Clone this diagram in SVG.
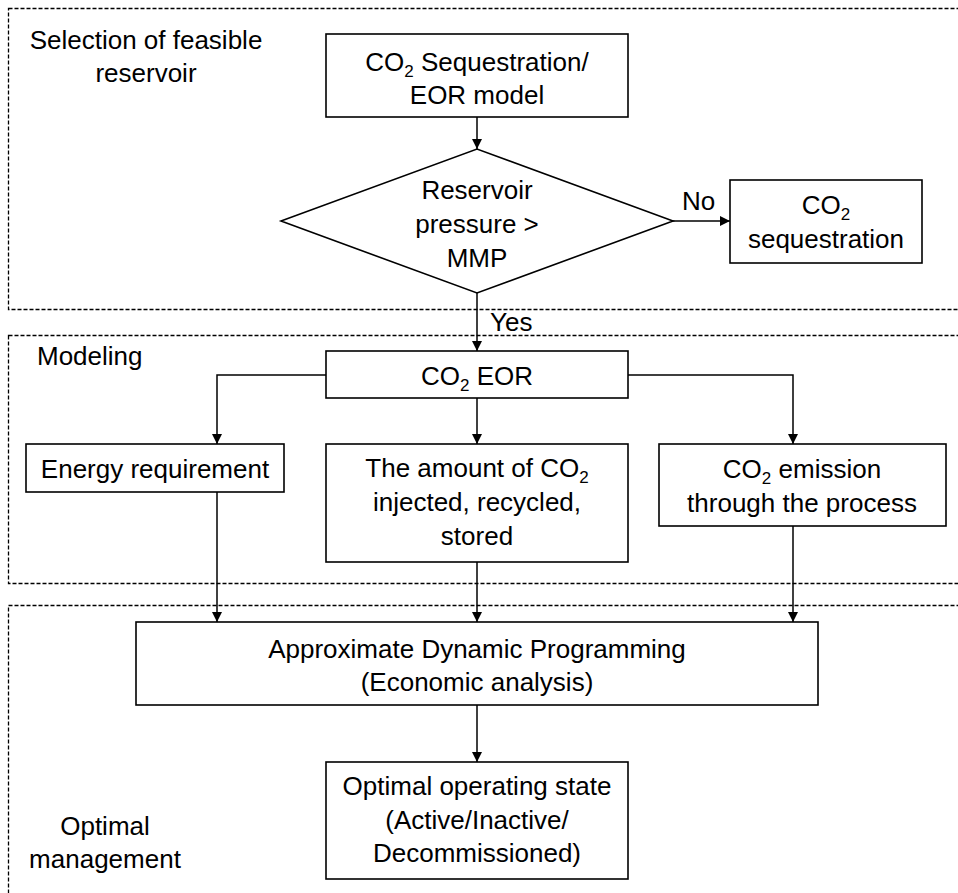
<svg xmlns="http://www.w3.org/2000/svg" width="958" height="893" viewBox="0 0 958 893">
  <style>
    text { font-family: "Liberation Sans", Arial, sans-serif; font-size: 26px; fill: #000; }
    .c { text-anchor: middle; }
    .sub { font-size: 17px; }
    .box { fill: #fff; stroke: #000; stroke-width: 1.6; }
    .zone { fill: none; stroke: #000; stroke-width: 1.3; stroke-dasharray: 4 2; }
    .link { fill: none; stroke: #000; stroke-width: 1.5; }
  </style>
  <defs>
    <marker id="arrow" viewBox="0 0 10 10" refX="10" refY="5" markerWidth="10" markerHeight="10" markerUnits="userSpaceOnUse" orient="auto">
      <path d="M0,0 L10,5 L0,10 Z" fill="#000"/>
    </marker>
  </defs>
  <rect width="958" height="893" fill="#fff"/>

  <!-- stage zones -->
  <g id="zones">
    <rect class="zone" x="8.5" y="8.5" width="960" height="301"/>
    <rect class="zone" x="8.5" y="335.5" width="960" height="248"/>
    <rect class="zone" x="8.5" y="605.5" width="960" height="300"/>
    <text class="c" x="146" y="49">Selection of feasible</text>
    <text class="c" x="146" y="82">reservoir</text>
    <text x="37" y="365">Modeling</text>
    <text class="c" x="105" y="835">Optimal</text>
    <text class="c" x="105" y="868">management</text>
  </g>

  <!-- connectors -->
  <g id="connectors">
    <path class="link" d="M477,117 V149" marker-end="url(#arrow)"/>
    <path class="link" d="M673,221 H730" marker-end="url(#arrow)"/>
    <path class="link" d="M477,293 V351" marker-end="url(#arrow)"/>
    <path class="link" d="M326,375 H217 V444" marker-end="url(#arrow)"/>
    <path class="link" d="M477,398 V444" marker-end="url(#arrow)"/>
    <path class="link" d="M628,375 H793 V444" marker-end="url(#arrow)"/>
    <path class="link" d="M217,492 V622" marker-end="url(#arrow)"/>
    <path class="link" d="M477,562 V622" marker-end="url(#arrow)"/>
    <path class="link" d="M793,526 V622" marker-end="url(#arrow)"/>
    <path class="link" d="M477,705 V762" marker-end="url(#arrow)"/>
    <text x="682" y="210">No</text>
    <text x="490" y="331">Yes</text>
  </g>

  <g id="model">
    <rect class="box" x="326" y="34" width="302" height="83"/>
    <text class="c" x="477" y="71">CO<tspan class="sub" dy="6">2</tspan><tspan dy="-6"> Sequestration/</tspan></text>
    <text class="c" x="477" y="104">EOR model</text>
  </g>

  <g id="decision">
    <path class="box" d="M281,221 L477,149 L673,221 L477,293 Z"/>
    <text class="c" x="477" y="199">Reservoir</text>
    <text class="c" x="477" y="233">pressure &gt;</text>
    <text class="c" x="477" y="267">MMP</text>
  </g>

  <g id="sequestration">
    <rect class="box" x="730" y="180" width="192" height="83"/>
    <text class="c" x="826" y="214">CO<tspan class="sub" dy="6">2</tspan></text>
    <text class="c" x="826" y="248">sequestration</text>
  </g>

  <g id="eor">
    <rect class="box" x="326" y="351" width="302" height="47"/>
    <text class="c" x="477" y="385">CO<tspan class="sub" dy="6">2</tspan><tspan dy="-6"> EOR</tspan></text>
  </g>

  <g id="energy">
    <rect class="box" x="26" y="444" width="258" height="48"/>
    <text class="c" x="155" y="478">Energy requirement</text>
  </g>

  <g id="amount">
    <rect class="box" x="326" y="444" width="302" height="118"/>
    <text class="c" x="477" y="477">The amount of CO<tspan class="sub" dy="6">2</tspan></text>
    <text class="c" x="477" y="511">injected, recycled,</text>
    <text class="c" x="477" y="545">stored</text>
  </g>

  <g id="emission">
    <rect class="box" x="659" y="444" width="287" height="82"/>
    <text class="c" x="802" y="478">CO<tspan class="sub" dy="6">2</tspan><tspan dy="-6"> emission</tspan></text>
    <text class="c" x="802" y="512">through the process</text>
  </g>

  <g id="adp">
    <rect class="box" x="136" y="622" width="682" height="83"/>
    <text class="c" x="477" y="658">Approximate Dynamic Programming</text>
    <text class="c" x="477" y="691">(Economic analysis)</text>
  </g>

  <g id="operating-state">
    <rect class="box" x="326" y="762" width="302" height="117"/>
    <text class="c" x="477" y="795">Optimal operating state</text>
    <text class="c" x="477" y="829">(Active/Inactive/</text>
    <text class="c" x="477" y="862">Decommissioned)</text>
  </g>
</svg>
